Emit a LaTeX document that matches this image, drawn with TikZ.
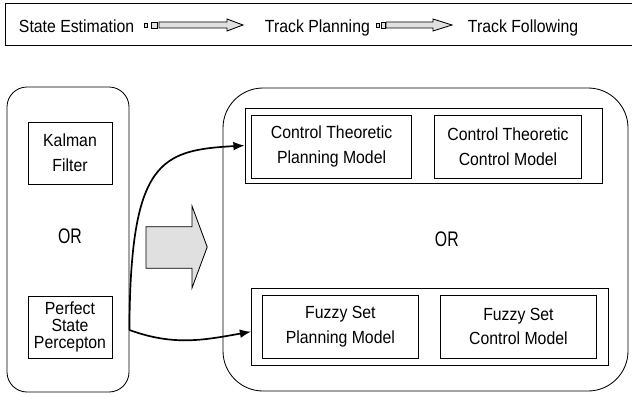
\documentclass[tikz,border=0pt]{standalone}
\usepackage{fontspec}
\setmainfont[FakeStretch=0.9]{Liberation Sans}
\newfontfamily\narrowfont[FakeStretch=0.75]{Liberation Sans}
\usetikzlibrary{arrows.meta}

\begin{document}
\begin{tikzpicture}
        \tikzset{box/.style={draw, line width=0.6pt, align=center, font=\fontsize{12.5}{17.5}\selectfont},
                 frame/.style={draw, line width=0.6pt},
                 choice/.style={font=\narrowfont\fontsize{15}{18}\selectfont},
                 stage/.style={anchor=base west, font=\fontsize{12.5}{15}\selectfont},
                 hollow/.style={draw, line width=0.6pt, fill=black!12},
                 link/.style={line width=1.2pt, -{Latex[length=2.8mm, width=2.2mm]}}}
        \useasboundingbox (0, 0) rectangle (15.8, 9.925);
        % stages along the top
        \draw[line width=0.6pt] (0.125, 9.85) rectangle (16, 8.8);
        \node[stage] (estimation) at (0.35, 9.1) {State Estimation};
        \node[stage] (planning) at (6.5, 9.1) {Track Planning};
        \node[stage] (following) at (11.575, 9.1) {Track Following};
        \draw[hollow] (3.6, 9.34) rectangle (3.69, 9.25);
        \draw[hollow] (3.775, 9.375) rectangle (3.925, 9.225);
        \draw[hollow] (3.975, 9.375) -- (5.675, 9.375) -- (5.675, 9.45) -- (6.075, 9.3)
                -- (5.675, 9.15) -- (5.675, 9.225) -- (3.975, 9.225) -- cycle;
        \draw[hollow] (9.4, 9.34) rectangle (9.475, 9.25);
        \draw[hollow] (9.525, 9.375) rectangle (9.625, 9.225);
        \draw[hollow] (9.65, 9.375) -- (10.825, 9.375) -- (10.825, 9.45) -- (11.3, 9.3)
                -- (10.825, 9.15) -- (10.825, 9.225) -- (9.65, 9.225) -- cycle;
        % state estimation
        \node[frame, rounded corners=0.5cm, minimum width=3.05cm, minimum height=7.625cm] (state) at (1.7, 3.9375) {};
        \node[box, minimum width=2.1cm, minimum height=1.55cm] (kalman) at (1.75, 6.1) {Kalman\\Filter};
        \node[choice] (orleft) at (1.75, 4.025) {OR};
        \node[box, minimum width=2.1cm, minimum height=1.55cm, font=\fontsize{12.5}{12}\selectfont] (perfect) at (1.75, 1.75) {Perfect\\State\\Percepton};
        % planning and following
        \node[frame, rounded corners=1cm, minimum width=10.125cm, minimum height=7.575cm] (track) at (10.6375, 3.9375) {};
        \node[frame, minimum width=8.925cm, minimum height=1.875cm] (theoretic) at (10.5875, 6.2875) {};
        \node[box, minimum width=4cm, minimum height=1.58cm] (ctplan) at (8.29, 6.26) {Control Theoretic\\Planning Model};
        \node[box, minimum width=3.69cm, minimum height=1.58cm] (ctcontrol) at (12.7, 6.26) {Control Theoretic\\Control Model};
        \node[choice] (orright) at (11.17, 3.94) {OR};
        \node[frame, minimum width=8.92cm, minimum height=1.925cm] (fuzzy) at (10.7475, 1.7625) {};
        \node[box, minimum width=3.89cm, minimum height=1.58cm] (fsplan) at (8.51, 1.76) {Fuzzy Set\\Planning Model};
        \node[box, minimum width=3.92cm, minimum height=1.58cm] (fscontrol) at (12.96, 1.76) {Fuzzy Set\\Control Model};
        % big arrow and the two links
        \draw[line width=0.6pt, fill=black!12] (3.65, 4.2575) -- (4.8, 4.2575) -- (4.8, 4.775) -- (5.18, 3.75)
                -- (4.8, 2.725) -- (4.8, 3.2175) -- (3.65, 3.2175) -- cycle;
        \coordinate (fork) at (state.east |- 0, 1.675);
        \draw[link] (fork) .. controls +(0.02, 4.25) and +(-2.1, -0.12) .. (theoretic.west);
        \draw[link] (fork) to[out=-20, in=190] ([yshift=-0.13cm]fuzzy.west);
\end{tikzpicture}
\end{document}
